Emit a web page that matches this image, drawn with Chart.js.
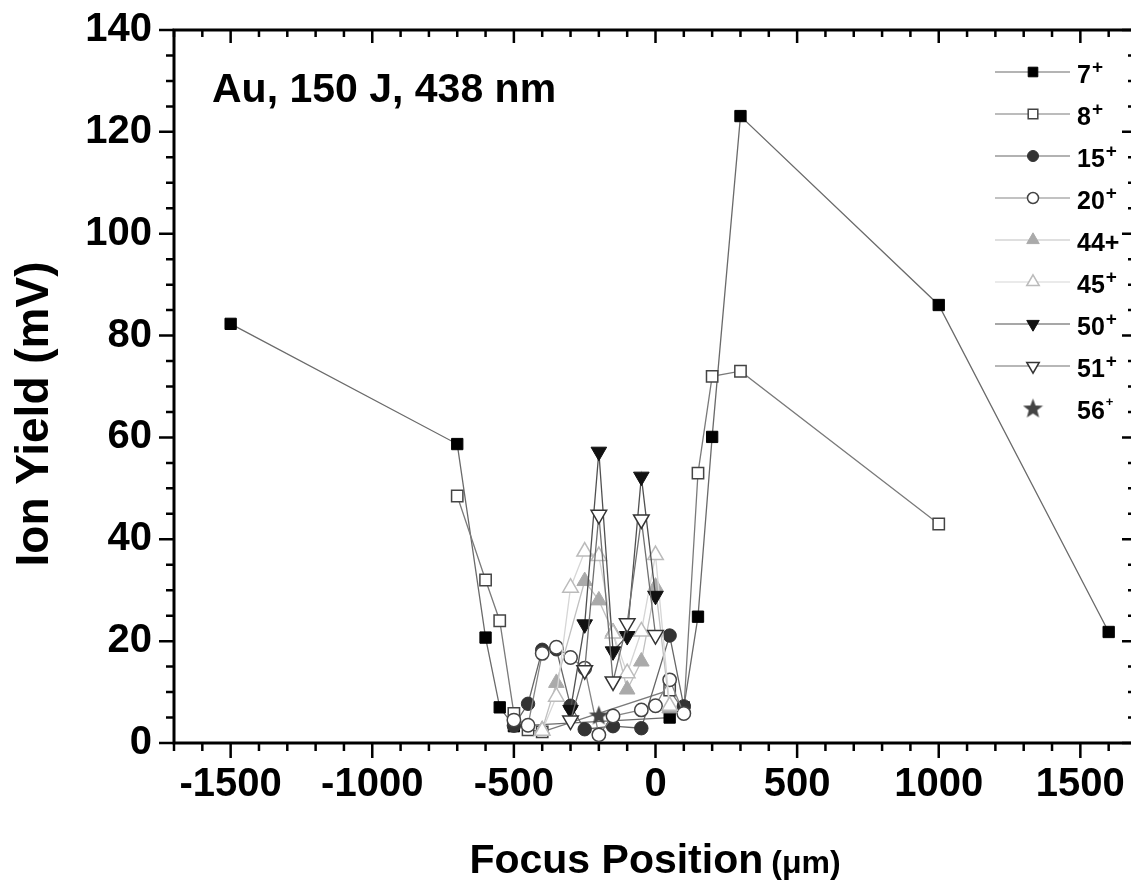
<!DOCTYPE html>
<html>
<head>
<meta charset="utf-8">
<script src="https://cdn.jsdelivr.net/npm/chart.js@4"></script>
<style>
  html, body { margin: 0; padding: 0; background: #fff; overflow: hidden; }
  #wrap { width: 1148px; height: 880px; }
</style>
</head>
<body>
<div id="wrap"><canvas id="ionChart" width="1148" height="880"></canvas></div>
<script>
// charge states in legend order ('^' marks the superscript part)
const ionLabels = ['7^+', '8^+', '15^+', '20^+', '44+', '45^+', '50^+', '51^+', '56^+'];

// focus position (um) / ion yield (mV), one pair per charge state
const pos7 = [-1500, -700, -600, -550, -500, 50, 100, 150, 200, 300, 1000, 1600];
const yield7 = [82.3, 58.7, 20.7, 7.0, 3.3, 5.0, 7.0, 24.8, 60.1, 123.1, 86.0, 21.8];

const pos8 = [-700, -600, -550, -500, -450, -400, 50, 100, 150, 200, 300, 1000];
const yield8 = [48.5, 32.0, 24.0, 5.8, 2.6, 2.2, 10.4, 6.3, 53.0, 72.0, 73.0, 43.0];

const pos15 = [-500, -450, -400, -350, -300, -250, -150, -50, 50, 100];
const yield15 = [3.4, 7.7, 18.3, 18.4, 7.3, 2.7, 3.3, 2.9, 21.1, 7.2];

const pos20 = [-500, -450, -400, -350, -300, -250, -200, -150, -50, 0, 50, 100];
const yield20 = [4.5, 3.5, 17.6, 18.8, 16.8, 14.7, 1.6, 5.3, 6.5, 7.3, 12.4, 5.8];

const pos44 = [-400, -350, -250, -200, -150, -100, -50, 0, 50];
const yield44 = [2.6, 11.8, 31.8, 28.0, 21.8, 10.5, 16.0, 30.7, 6.8];

const pos45 = [-400, -350, -300, -250, -200, -150, -100, -50, 0, 50];
const yield45 = [2.4, 9.1, 30.5, 37.6, 36.7, 21.5, 13.7, 21.9, 36.9, 7.3];

const pos50 = [-300, -250, -200, -150, -100, -50, 0];
const yield50 = [6.5, 23.3, 57.2, 18.0, 21.0, 52.3, 28.9];

const pos51 = [-300, -250, -200, -150, -100, -50, 0];
const yield51 = [4.4, 14.3, 44.8, 12.1, 23.5, 43.9, 21.2];

const pos56 = [-200];
const yield56 = [5.5];

const xTickValues = [-1500, -1000, -500, 0, 500, 1000, 1500];
const yTickValues = [0, 20, 40, 60, 80, 100, 120, 140];

const FONT = '"Liberation Sans", Arial, Helvetica, sans-serif';

// filled five point star used for 56+
function makeStar(size, color) {
    const c = document.createElement('canvas');
    c.width = c.height = size;
    const g = c.getContext('2d');
    const R = size / 2, r = R * 0.42;
    g.beginPath();
    for (let i = 0; i < 10; i++) {
        const a = -Math.PI / 2 + i * Math.PI / 5;
        const rad = i % 2 ? r : R;
        g.lineTo(R + rad * Math.cos(a), R + 1 + rad * Math.sin(a));
    }
    g.closePath();
    g.fillStyle = color;
    g.fill();
    return c;
}

const seriesStyle = [
    { style: 'rect', r: 8, lr: 6.8, fill: '#000', stroke: '#000', bw: 1, line: '#6a6a6a' },
    { style: 'rect', r: 8, lr: 6.8, fill: '#fff', stroke: '#444', bw: 1.5, line: '#7a7a7a' },
    { style: 'circle', r: 6.7, lr: 5.5, fill: '#333', stroke: '#333', bw: 1, line: '#666' },
    { style: 'circle', r: 6.7, lr: 5.5, fill: '#fff', stroke: '#444', bw: 1.5, line: '#858585' },
    { style: 'triangle', r: 9, lr: 7.2, fill: '#aaa', stroke: '#aaa', bw: 1, line: '#c0c0c0' },
    { style: 'triangle', r: 9, lr: 7.2, fill: '#fff', stroke: '#bbb', bw: 1.5, line: '#d6d6d6' },
    { style: 'triangle', rot: 180, r: 9, lr: 7.2, fill: '#111', stroke: '#111', bw: 1, line: '#505050' },
    { style: 'triangle', rot: 180, r: 9, lr: 7.2, fill: '#fff', stroke: '#333', bw: 1.5, line: '#707070' },
    { style: makeStar(21, '#444'), r: 10, lr: 10, fill: '#444', stroke: '#444', bw: 0, line: null, supSmall: true }
];

const series = [
    [pos7, yield7], [pos8, yield8], [pos15, yield15], [pos20, yield20], [pos44, yield44],
    [pos45, yield45], [pos50, yield50], [pos51, yield51], [pos56, yield56]
];

const datasets = series.map(([xs, ys], i) => {
    const s = seriesStyle[i];
    return {
        label: ionLabels[i].replace('^', ''),
        data: xs.map((x, j) => ({ x: x, y: ys[j] })),
        showLine: xs.length > 1,
        borderColor: s.line || s.fill,
        borderWidth: 1.3,
        pointStyle: s.style,
        pointRotation: s.rot || 0,
        pointRadius: s.r,
        pointHoverRadius: s.r,
        pointBackgroundColor: s.fill,
        pointBorderColor: s.stroke,
        pointBorderWidth: s.bw,
        tension: 0,
        clip: false,
        order: series.length - i
    };
});

// axis frame with minor/major ticks on all four sides
const frameTicks = {
    id: 'frameTicks',
    beforeDatasetsDraw(chart) {
        const { ctx, chartArea: a, scales: { x, y } } = chart;
        ctx.save();
        ctx.strokeStyle = '#000';
        ctx.lineWidth = 2.5;
        ctx.beginPath();
        for (let v = x.min; v <= x.max; v += 100) {
            const px = x.getPixelForValue(v);
            const major = v % 500 === 0;
            ctx.moveTo(px, a.bottom); ctx.lineTo(px, a.bottom + (major ? 15 : 8));
            ctx.moveTo(px, a.top); ctx.lineTo(px, a.top + (major ? 13 : 7));
        }
        for (let v = y.min; v <= y.max; v += 5) {
            const py = y.getPixelForValue(v);
            const major = v % 20 === 0;
            ctx.moveTo(a.left, py); ctx.lineTo(a.left - (major ? 15 : 8), py);
            ctx.moveTo(a.right, py); ctx.lineTo(a.right - (major ? 15 : 9), py);
        }
        ctx.stroke();
        ctx.lineWidth = 3;
        ctx.strokeRect(a.left, a.top, a.right - a.left, a.bottom - a.top);
        ctx.restore();
    }
};

// titles, annotation and legend
const annotations = {
    id: 'annotations',
    afterDraw(chart) {
        const { ctx } = chart;
        ctx.save();
        ctx.fillStyle = '#000';
        ctx.textBaseline = 'alphabetic';

        ctx.font = 'bold 41px ' + FONT;
        ctx.textAlign = 'left';
        ctx.fillText('Au, 150 J, 438 nm', 212, 102);

        // x title with smaller unit
        const main = 'Focus Position', unit = '(\u03bcm)';
        ctx.font = 'bold 41px ' + FONT;
        const w1 = ctx.measureText(main).width;
        ctx.font = 'bold 32px ' + FONT;
        const w2 = ctx.measureText(unit).width;
        const gap = 8;
        const x0 = 655 - (w1 + gap + w2) / 2;
        ctx.font = 'bold 41px ' + FONT;
        ctx.fillText(main, x0, 873);
        ctx.font = 'bold 32px ' + FONT;
        ctx.fillText(unit, x0 + w1 + gap, 873);

        // y title
        ctx.save();
        ctx.translate(48, 414);
        ctx.rotate(-Math.PI / 2);
        ctx.font = 'bold 46px ' + FONT;
        ctx.textAlign = 'center';
        ctx.fillText('Ion Yield (mV)', 0, 0);
        ctx.restore();

        // legend
        const draw = Chart.helpers.drawPoint;
        ionLabels.forEach((lab, i) => {
            const s = seriesStyle[i];
            const ry = 72 + i * 42;
            if (s.line) {
                ctx.strokeStyle = s.line;
                ctx.lineWidth = 1.2;
                ctx.beginPath();
                ctx.moveTo(995, ry); ctx.lineTo(1070, ry);
                ctx.stroke();
            }
            ctx.fillStyle = s.fill;
            ctx.strokeStyle = s.stroke;
            ctx.lineWidth = s.bw;
            draw(ctx, { pointStyle: s.style, radius: s.lr, rotation: s.rot || 0, borderWidth: s.bw }, 1033, ry);

            ctx.fillStyle = '#000';
            ctx.textAlign = 'left';
            const parts = lab.split('^');
            ctx.font = 'bold 25px ' + FONT;
            ctx.fillText(parts[0], 1077, ry + 11);
            if (parts[1]) {
                const bw = ctx.measureText(parts[0]).width;
                if (s.supSmall) {
                    ctx.font = 'bold 13px ' + FONT;
                    ctx.fillText(parts[1], 1077 + bw + 1, ry - 2);
                } else {
                    ctx.font = 'bold 19px ' + FONT;
                    ctx.fillText(parts[1], 1077 + bw + 1, ry + 0.5);
                }
            }
        });
        ctx.restore();
    }
};

const tickFont = { family: FONT, size: 40, weight: 'bold' };

new Chart(document.getElementById('ionChart').getContext('2d'), {
    type: 'scatter',
    data: { datasets: datasets },
    options: {
        responsive: false,
        animation: false,
        events: [],
        layout: { padding: { top: 30, right: 11, left: 0, bottom: 0 } },
        plugins: { legend: { display: false }, tooltip: { enabled: false } },
        scales: {
            x: {
                type: 'linear',
                min: -1700,
                max: 1700,
                afterBuildTicks: s => { s.ticks = xTickValues.map(v => ({ value: v })); },
                afterFit: s => { s.height = 137; s.paddingLeft = 0; s.paddingRight = 0; },
                grid: { display: false, drawTicks: false },
                border: { display: false },
                ticks: { padding: 18, color: '#000', font: tickFont, maxRotation: 0, autoSkip: false, callback: v => String(v) }
            },
            y: {
                type: 'linear',
                min: 0,
                max: 140,
                afterBuildTicks: s => { s.ticks = yTickValues.map(v => ({ value: v })); },
                afterFit: s => { s.width = 174; s.paddingTop = 0; s.paddingBottom = 0; },
                grid: { display: false, drawTicks: false },
                border: { display: false },
                ticks: { padding: 22, color: '#000', font: tickFont, autoSkip: false, callback: v => String(v) }
            }
        }
    },
    plugins: [frameTicks, annotations]
});
</script>
</body>
</html>
